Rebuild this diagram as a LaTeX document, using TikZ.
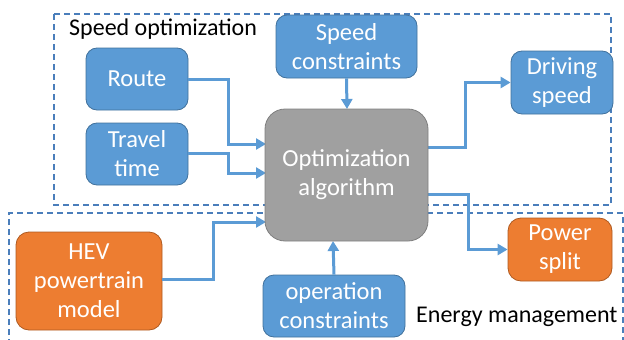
\documentclass[tikz,border=0pt]{standalone}
\usepackage{fontspec}
\setmainfont{Carlito}
\usetikzlibrary{arrows.meta}
\definecolor{boxblue}{HTML}{5B9BD5}
\definecolor{edgeblue}{HTML}{41719C}
\definecolor{boxorange}{HTML}{ED7D31}
\definecolor{edgeorange}{HTML}{AE5A21}
\definecolor{boxgray}{HTML}{A0A0A0}
\definecolor{edgegray}{HTML}{7F7F7F}
\definecolor{zoneline}{HTML}{4A7EBB}
\tikzset{
  txt/.style={font=\fontsize{24.5}{29}\selectfont, text=white, align=center, inner sep=0pt},
  bluebox/.style={txt, fill=boxblue, draw=edgeblue, line width=0.8pt, rounded corners=11pt},
  orangebox/.style={txt, fill=boxorange, draw=edgeorange, line width=0.8pt, rounded corners=13pt},
  graybox/.style={txt, fill=boxgray, draw=edgegray, line width=0.8pt, rounded corners=20pt},
  zone/.style={draw=zoneline, dashed, dash pattern=on 6pt off 4pt, line width=1.2pt},
  zonelabel/.style={font=\fontsize{24}{29}\selectfont, text=black, inner sep=0pt, anchor=base west},
  arr/.style={draw=boxblue, line width=3pt, -{Triangle[length=10pt,width=11pt]}},
}
\begin{document}
\begin{tikzpicture}[x=1pt,y=-1pt]
\useasboundingbox (0,0) rectangle (624,340);

% dashed zones
\draw[zone] (54,14) rectangle (611,205);
\draw[zone] (9,345) -- (9,213) -- (623,213) -- (623,345);
\node[zonelabel] (lblspeed) at (69,35) {Speed optimization};
\node[zonelabel] (lblenergy) at (416,322) {Energy management};

% boxes
\node[bluebox, minimum width=102pt, minimum height=62pt] (route) at (137,79) {Route};
\node[bluebox, minimum width=102pt, minimum height=62pt] (travel) at (137,154) {Travel\\time};
\node[bluebox, minimum width=141pt, minimum height=63pt] (speedc) at (346.5,46.5) {Speed\\constraints};
\node[bluebox, minimum width=102pt, minimum height=63pt] (drive) at (562,82.5) {Driving\\speed};
\node[orangebox, minimum width=146pt, minimum height=98pt] (hev) at (89,281) {HEV\\powertrain\\model};
\node[orangebox, minimum width=104pt, minimum height=63pt] (split) at (560,249.5) {Power\\split};
\node[bluebox, minimum width=142pt, minimum height=62pt] (opc) at (334,306) {operation\\constraints};

% connectors
\coordinate (rturn) at (228,79);
\coordinate (tturn) at (228,153);
\coordinate (hturn) at (213,279);
\coordinate (dturn) at (465,147);
\coordinate (pturn) at (468,194);
\draw[arr] (route.east |- rturn) -- (rturn) |- (266,144);
\draw[arr] (travel.east |- tturn) -- (tturn) |- (266,173);
\draw[arr] (hev.east |- hturn) -- (hturn) |- (266,222);
\draw[arr] (speedc.south) -- (347,109);
\draw[arr] (opc.north) -- (333,241);
\draw[arr] (420,147) -- (dturn) |- (drive.west);
\draw[arr] (420,194) -- (pturn) |- (split.west);

\node[graybox, minimum width=163pt, minimum height=132pt] (opt) at (346.5,175) {Optimization\\algorithm};
\end{tikzpicture}
\end{document}
